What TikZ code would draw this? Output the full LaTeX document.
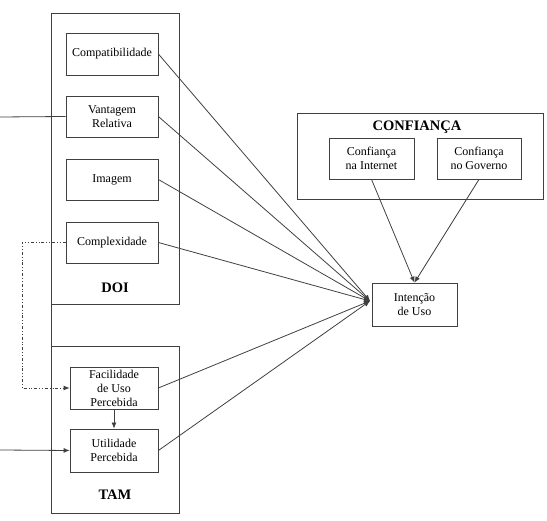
\documentclass[tikz,border=0pt]{standalone}
\usepackage{fontspec}
\setmainfont{Liberation Serif}
\usetikzlibrary{arrows.meta}
\begin{document}
\begin{tikzpicture}[x=1pt,y=-1pt,line width=0.8pt,draw=black!75,
    box/.style={draw,align=center,inner sep=0pt,font=\fontsize{12}{14}\selectfont},
    group/.style={draw,inner sep=0pt,outer sep=0pt},
    title/.style={font=\fontsize{14.5}{16}\selectfont\bfseries},
    link/.style={-{Latex[length=6pt,width=5pt]}}]
    \useasboundingbox (0,0) rectangle (547,521);

    % outer groups
    \node[group,minimum width=128pt,minimum height=291pt] (doi) at (115,158.5) {};
    \node[group,minimum width=128pt,minimum height=167pt] (tam) at (115,429.5) {};
    \node[group,minimum width=246pt,minimum height=86pt] (conf) at (420,156) {};
    \node[title] (doilab) at (115,288) {DOI};
    \node[title] (tamlab) at (115,495) {TAM};
    \node[title] (conflab) at (417,127) {CONFIANÇA};

    % constructs
    \node[box,minimum width=92pt,minimum height=42pt] (comp) at (112,54) {Compatibilidade};
    \node[box,minimum width=92pt,minimum height=41pt] (vant) at (112,116.5) {Vantagem\\Relativa};
    \node[box,minimum width=92pt,minimum height=41pt] (img) at (112,179.5) {Imagem};
    \node[box,minimum width=92pt,minimum height=41pt] (compl) at (112,242.5) {Complexidade};
    \node[box,minimum width=88pt,minimum height=42pt] (fac) at (114,388) {Facilidade\\de Uso\\Percebida};
    \node[box,minimum width=88pt,minimum height=43pt] (util) at (114,450.5) {Utilidade\\Percebida};
    \node[box,minimum width=85pt,minimum height=41pt] (internet) at (371.5,158.5) {Confiança\\na Internet};
    \node[box,minimum width=84pt,minimum height=41pt] (governo) at (479,158.5) {Confiança\\no Governo};
    \node[box,minimum width=85pt,minimum height=43pt] (intencao) at (414.5,304.5) {Intenção\\de Uso};

    \coordinate (hub) at (370,301);
    \coordinate (inA) at (0,117);
    \coordinate (inB) at (0,450);
    \coordinate (bend) at (22,242.5);

    \draw (doi.south west) -- (tam.north west);
    \draw (inA) -- (vant.west);
    \draw[link] (inB) -- (util.west);
    \draw[link,dash dot dot] (compl.west) -- (bend) |- (fac.west);
    \draw[link] (fac) -- (util);

    \foreach \src in {comp,vant,img,compl,fac,util}
        \draw[link] (\src.east) -- (hub);
    \draw[link] (internet.south) -- (intencao.north);
    \draw[link] (governo.south) -- (intencao.north);
\end{tikzpicture}
\end{document}
